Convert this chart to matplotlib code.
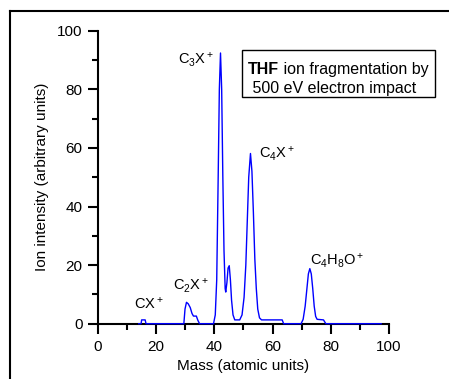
import matplotlib
matplotlib.use('Agg')
from matplotlib import pyplot as plt
from matplotlib.lines import Line2D
from matplotlib.patches import Rectangle

plt.rcParams['font.family'] = ['Liberation Sans', 'DejaVu Sans']
plt.rcParams['mathtext.fontset'] = 'custom'
plt.rcParams['mathtext.rm'] = 'Liberation Sans'
plt.rcParams['mathtext.it'] = 'Liberation Sans:italic'
plt.rcParams['mathtext.bf'] = 'Liberation Sans:bold'

# spectrum trace (mass, intensity)
mass = [14.0, 14.8, 15.0, 16.2, 16.5, 29.5, 29.9, 30.4, 31.0, 31.7, 32.3, 32.8,
        33.8, 34.3, 34.9, 39.7, 40.3, 40.8, 41.3, 41.7, 42.1, 42.5, 42.9, 43.3,
        43.7, 43.9, 44.3, 44.7, 45.1, 45.5, 45.9, 46.4, 47.0, 48.7, 49.5, 50.2,
        50.8, 51.3, 51.8, 52.4, 52.9, 53.4, 53.9, 54.4, 54.9, 55.5, 56.2, 63.3,
        63.8, 69.8, 70.5, 71.2, 71.8, 72.3, 72.8, 73.3, 73.8, 74.3, 74.8, 75.3,
        77.5, 78.3, 97.3]
intensity = [0, 0, 1.3, 1.3, 0, 0, 5.0, 7.3, 6.8, 5.5, 3.5, 2.6,
             2.6, 1.2, 0, 0, 3, 15, 50, 80, 92.4, 80, 50, 25,
             12, 10.8, 14, 19, 19.8, 15, 8, 3, 1.3, 1.3, 3, 9,
             20, 35, 50, 58.1, 52, 38, 22, 12, 5, 2, 1.3, 1.3,
             0, 0, 1.5, 6, 12, 17, 18.8, 17, 12, 6, 2.5, 1.5,
             1.3, 0, 0]

peak_labels = [r'CX$^+$', r'C$_2$X$^+$', r'C$_3$X$^+$', r'C$_4$X$^+$', r'C$_4$H$_8$O$^+$']
label_x = [17.5, 31.8, 33.6, 61.6, 82.2]
label_y = [7.0, 12.9, 90.0, 58.0, 21.4]

fig = plt.figure(figsize=(4.49, 3.79), dpi=100)
ax = fig.add_axes([0.2183, 0.1459, 0.648, 0.773])

ax.plot(mass, intensity, color='#0000ff', lw=1.0, clip_on=False, zorder=3)

ax.set_xlim(0, 100)
ax.set_ylim(0, 100)
ax.set_xticks(range(0, 101, 20))
ax.set_xticks(range(10, 100, 20), minor=True)
ax.set_yticks(range(0, 101, 20))
ax.set_yticks(range(10, 100, 20), minor=True)
for s in ['top', 'right']:
    ax.spines[s].set_visible(False)
for s in ['left', 'bottom']:
    ax.spines[s].set_linewidth(1.5)
ax.tick_params(which='major', length=7.5, width=1.5, labelsize=11, direction='out')
ax.tick_params(axis='x', which='major', pad=4.5)
ax.tick_params(which='minor', length=4, width=1.5, direction='out')
ax.set_xlabel('Mass (atomic units)', fontsize=11, labelpad=3)
ax.set_ylabel('Ion intensity (arbitrary units)', fontsize=11, labelpad=6)

for lab, x, y in zip(peak_labels, label_x, label_y):
    ax.text(x, y, lab, fontsize=10.5, ha='center', va='center')

# title box
fig.add_artist(Rectangle((242 / 449, 1 - 97 / 379), 193 / 449, 47 / 379,
                         transform=fig.transFigure, fill=False, lw=1.0, ec='black'))
t1 = fig.text(248 / 449, 1 - 74 / 379, 'THF', fontsize=11.5, fontweight='bold', va='baseline')
ax.annotate(' ion fragmentation by', xy=(1, 0), xycoords=t1, va='bottom', ha='left',
            fontsize=11.5, annotation_clip=False)
fig.text(248 / 449, 1 - 93 / 379, ' 500 eV electron impact', fontsize=11.5, va='baseline')

# outer frame
fig.add_artist(Line2D([10 / 449, 10 / 449], [0, 1 - 11 / 379], transform=fig.transFigure,
                      color='black', lw=1.5))
fig.add_artist(Line2D([10 / 449, 1], [1 - 11 / 379, 1 - 11 / 379], transform=fig.transFigure,
                      color='black', lw=1.5))

fig.savefig('out.png', dpi=100)
